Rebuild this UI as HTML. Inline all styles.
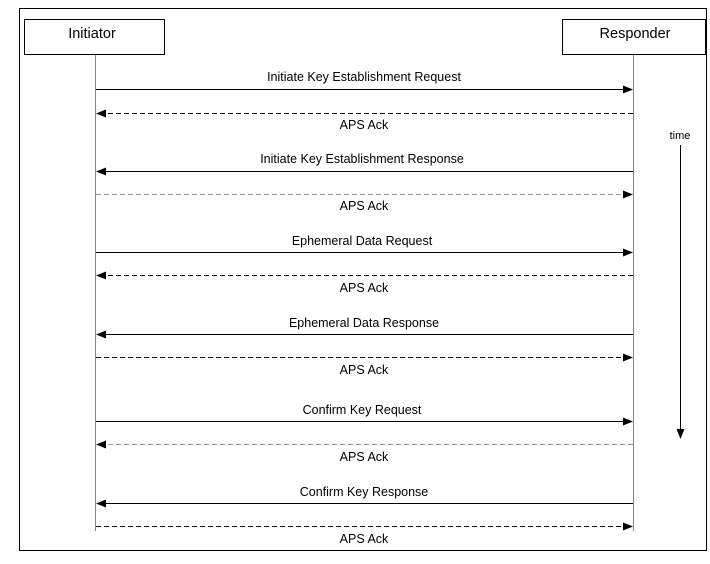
<!DOCTYPE html><html><head><style>body{margin:0;background:#fff}</style></head><body>
<svg width="710" height="559" xmlns="http://www.w3.org/2000/svg" font-family="Liberation Sans, sans-serif">
<defs>
<marker id="a" markerWidth="10" markerHeight="8" refX="9" refY="4" orient="auto" markerUnits="userSpaceOnUse"><path d="M0,0L10,4L0,8z" fill="#000"/></marker>
</defs>
<rect x="19.5" y="8.5" width="687" height="542" fill="none" stroke="#000"/>
<rect x="24.5" y="19.5" width="140" height="35" fill="#fff" stroke="#000"/>
<rect x="562.5" y="19.5" width="143" height="35" fill="#fff" stroke="#000"/>
<text x="92" y="38" font-size="14.5" text-anchor="middle">Initiator</text>
<text x="635" y="38" font-size="14.5" text-anchor="middle">Responder</text>
<line x1="95.5" y1="55" x2="95.5" y2="531" stroke="#888"/>
<line x1="633.5" y1="55" x2="633.5" y2="531" stroke="#888"/>
<g stroke="#000" fill="none" marker-end="url(#a)">
<line x1="96" y1="89.5" x2="632" y2="89.5"/>
<line x1="633" y1="113.5" x2="97" y2="113.5" stroke-dasharray="5,3"/>
<line x1="633" y1="171.5" x2="97" y2="171.5"/>
<line x1="96" y1="194.5" x2="632" y2="194.5" stroke-dasharray="5,3" stroke="#999"/>
<line x1="96" y1="252.5" x2="632" y2="252.5"/>
<line x1="633" y1="275.5" x2="97" y2="275.5" stroke-dasharray="5,3"/>
<line x1="633" y1="334.5" x2="97" y2="334.5"/>
<line x1="96" y1="357.5" x2="632" y2="357.5" stroke-dasharray="5,3"/>
<line x1="96" y1="421.5" x2="632" y2="421.5"/>
<line x1="633" y1="444.5" x2="97" y2="444.5" stroke-dasharray="5,3" stroke="#999"/>
<line x1="633" y1="503.5" x2="97" y2="503.5"/>
<line x1="96" y1="526.5" x2="632" y2="526.5" stroke-dasharray="5,3"/>
<line x1="680.5" y1="145" x2="680.5" y2="438"/>
</g>
<g font-size="12.5" text-anchor="middle">
<text x="364" y="81">Initiate Key Establishment Request</text>
<text x="364" y="129">APS Ack</text>
<text x="362" y="163">Initiate Key Establishment Response</text>
<text x="364" y="210">APS Ack</text>
<text x="362" y="245">Ephemeral Data Request</text>
<text x="364" y="292">APS Ack</text>
<text x="364" y="327">Ephemeral Data Response</text>
<text x="364" y="374">APS Ack</text>
<text x="362" y="414">Confirm Key Request</text>
<text x="364" y="461">APS Ack</text>
<text x="364" y="496">Confirm Key Response</text>
<text x="364" y="543">APS Ack</text>
<text x="680" y="139" font-size="11">time</text>
</g>
</svg>
</body></html>
